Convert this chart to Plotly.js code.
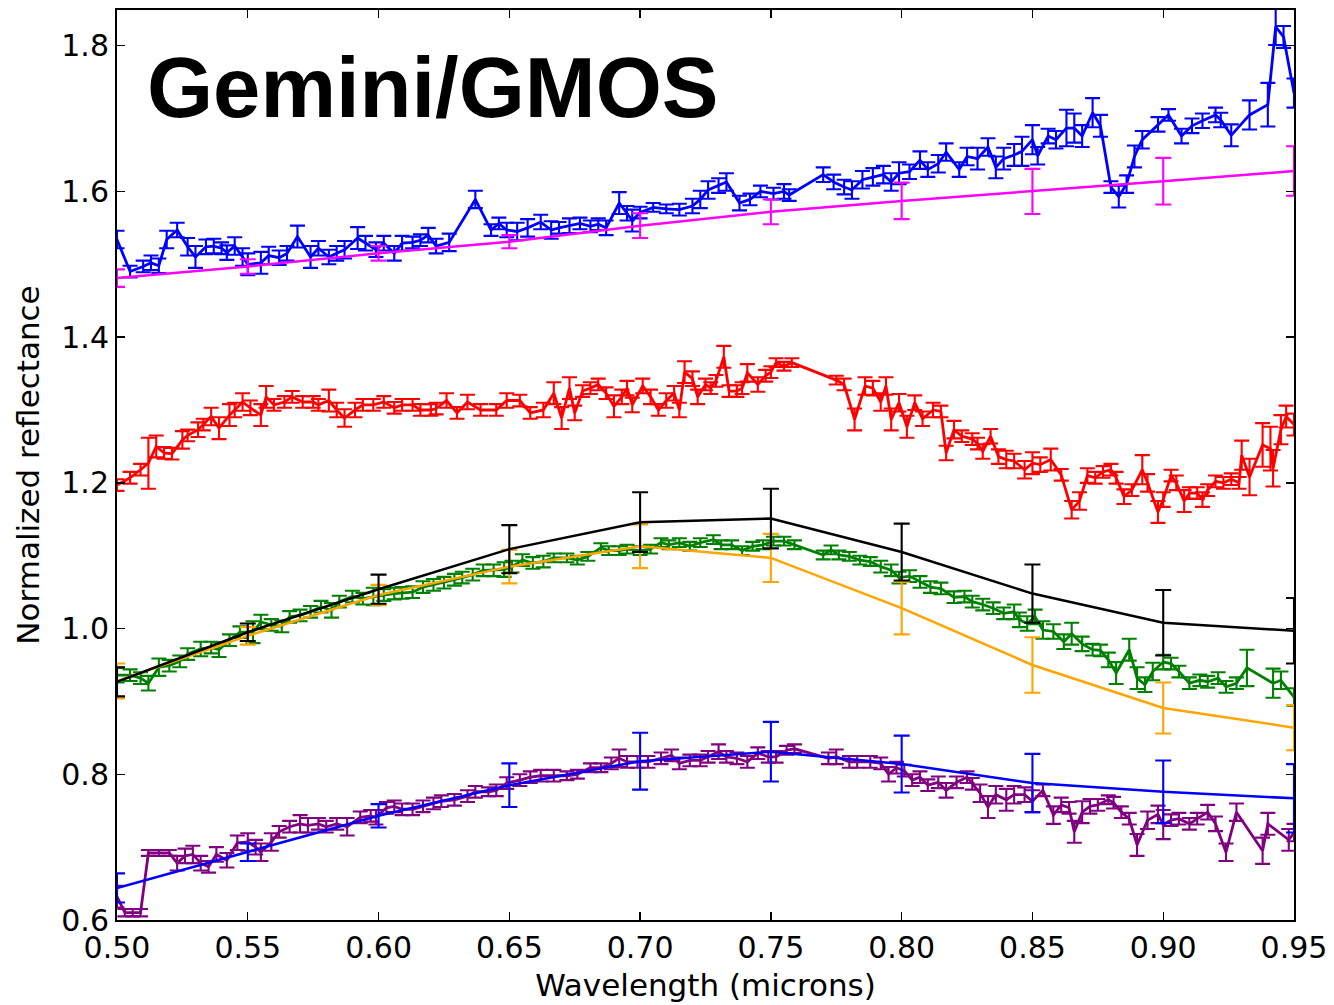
<!DOCTYPE html>
<html>
<head>
<meta charset="utf-8">
<script src="https://cdn.plot.ly/plotly-3.0.1.min.js"></script>
<style>html,body{margin:0;padding:0;background:#fff;}#chart{width:1334px;height:1005px;}</style>
</head>
<body>
<div id="chart"></div>
<script>
// ---- Data ----
var topSpecX = [0.500,0.505,0.510,0.513,0.516,0.519,0.523,0.527,0.530,0.534,0.537,0.540,0.542,0.545,0.548,0.550,0.555,0.558,0.562,0.565,0.569,0.574,0.577,0.581,0.584,0.587,0.592,0.595,0.599,0.602,0.606,0.609,0.613,0.616,0.619,0.622,0.627,0.637,0.643,0.646,0.649,0.653,0.657,0.662,0.666,0.669,0.673,0.677,0.681,0.684,0.687,0.692,0.695,0.697,0.700,0.705,0.710,0.715,0.720,0.723,0.726,0.730,0.733,0.738,0.742,0.746,0.751,0.755,0.757,0.770,0.774,0.778,0.781,0.785,0.789,0.793,0.796,0.799,0.803,0.807,0.810,0.814,0.817,0.822,0.825,0.829,0.833,0.836,0.839,0.843,0.846,0.850,0.852,0.856,0.859,0.863,0.866,0.869,0.873,0.876,0.880,0.883,0.886,0.889,0.892,0.898,0.902,0.907,0.911,0.915,0.920,0.922,0.926,0.933,0.940,0.943,0.946,0.950];
var topSpecY = [1.534,1.490,1.497,1.502,1.498,1.534,1.547,1.524,1.510,1.524,1.525,1.522,1.516,1.525,1.510,1.500,1.502,1.512,1.509,1.515,1.538,1.510,1.522,1.510,1.515,1.520,1.536,1.529,1.520,1.529,1.515,1.529,1.530,1.533,1.540,1.525,1.530,1.589,1.547,1.556,1.547,1.545,1.550,1.558,1.547,1.550,1.553,1.556,1.552,1.555,1.550,1.584,1.570,1.560,1.571,1.578,1.576,1.575,1.580,1.589,1.602,1.608,1.613,1.584,1.589,1.600,1.597,1.600,1.595,1.623,1.613,1.606,1.602,1.616,1.620,1.623,1.613,1.625,1.627,1.643,1.630,1.638,1.654,1.630,1.648,1.645,1.661,1.633,1.645,1.650,1.655,1.671,1.649,1.676,1.671,1.687,1.687,1.676,1.708,1.690,1.606,1.593,1.610,1.648,1.671,1.692,1.705,1.676,1.690,1.697,1.705,1.698,1.677,1.705,1.719,1.826,1.812,1.735];
var topSpecErr = [0.012,0.008,0.008,0.010,0.010,0.012,0.010,0.012,0.015,0.010,0.010,0.008,0.010,0.012,0.012,0.015,0.015,0.012,0.010,0.010,0.015,0.015,0.010,0.010,0.010,0.012,0.015,0.010,0.010,0.010,0.010,0.010,0.008,0.008,0.010,0.010,0.012,0.012,0.008,0.008,0.010,0.012,0.012,0.010,0.012,0.008,0.010,0.008,0.008,0.008,0.010,0.015,0.010,0.015,0.008,0.006,0.006,0.008,0.010,0.012,0.012,0.010,0.012,0.010,0.008,0.008,0.008,0.010,0.008,0.010,0.010,0.010,0.012,0.012,0.012,0.012,0.012,0.015,0.010,0.012,0.010,0.012,0.012,0.010,0.012,0.015,0.012,0.015,0.015,0.015,0.020,0.020,0.012,0.010,0.012,0.025,0.020,0.015,0.020,0.015,0.008,0.015,0.012,0.015,0.012,0.010,0.008,0.010,0.010,0.010,0.010,0.010,0.015,0.020,0.030,0.025,0.015,0.020];

var redSpecX = [0.500,0.505,0.509,0.512,0.515,0.518,0.521,0.525,0.527,0.531,0.533,0.536,0.539,0.543,0.545,0.548,0.551,0.555,0.557,0.560,0.564,0.567,0.571,0.575,0.577,0.581,0.584,0.587,0.591,0.594,0.598,0.602,0.606,0.609,0.613,0.616,0.620,0.622,0.626,0.630,0.634,0.639,0.645,0.649,0.654,0.658,0.663,0.667,0.670,0.673,0.675,0.678,0.681,0.684,0.687,0.690,0.693,0.695,0.697,0.701,0.704,0.707,0.710,0.713,0.715,0.717,0.720,0.722,0.725,0.727,0.729,0.732,0.734,0.737,0.739,0.741,0.745,0.748,0.750,0.752,0.755,0.758,0.775,0.778,0.782,0.786,0.789,0.792,0.794,0.796,0.799,0.802,0.805,0.808,0.812,0.815,0.817,0.820,0.823,0.827,0.829,0.831,0.834,0.837,0.840,0.843,0.847,0.850,0.853,0.857,0.861,0.865,0.868,0.871,0.874,0.877,0.880,0.882,0.885,0.888,0.892,0.894,0.898,0.900,0.903,0.905,0.908,0.910,0.913,0.915,0.917,0.920,0.923,0.926,0.929,0.930,0.933,0.938,0.941,0.942,0.945,0.947,0.950];
var redSpecY = [1.197,1.207,1.218,1.227,1.250,1.241,1.240,1.259,1.265,1.273,1.280,1.291,1.275,1.293,1.300,1.311,1.303,1.293,1.318,1.307,1.311,1.318,1.311,1.311,1.307,1.313,1.300,1.289,1.300,1.307,1.307,1.311,1.303,1.307,1.307,1.300,1.300,1.302,1.313,1.296,1.311,1.300,1.300,1.313,1.313,1.296,1.300,1.323,1.289,1.330,1.296,1.326,1.330,1.335,1.323,1.305,1.318,1.330,1.307,1.333,1.318,1.300,1.313,1.323,1.300,1.352,1.343,1.318,1.335,1.330,1.340,1.373,1.326,1.326,1.330,1.351,1.335,1.347,1.352,1.365,1.360,1.365,1.341,1.335,1.287,1.333,1.330,1.311,1.333,1.287,1.310,1.277,1.310,1.288,1.300,1.298,1.241,1.273,1.264,1.260,1.254,1.243,1.264,1.236,1.232,1.230,1.218,1.227,1.225,1.232,1.211,1.163,1.175,1.210,1.207,1.215,1.218,1.207,1.181,1.190,1.218,1.200,1.160,1.177,1.210,1.200,1.175,1.186,1.186,1.177,1.190,1.202,1.200,1.205,1.200,1.238,1.208,1.252,1.247,1.220,1.273,1.291,1.280];
var redSpecErr = [0.008,0.008,0.008,0.035,0.015,0.008,0.008,0.012,0.008,0.010,0.008,0.012,0.015,0.015,0.010,0.012,0.010,0.015,0.015,0.008,0.008,0.008,0.008,0.008,0.008,0.015,0.010,0.012,0.010,0.008,0.008,0.008,0.008,0.008,0.008,0.008,0.008,0.008,0.010,0.008,0.010,0.008,0.008,0.010,0.008,0.008,0.010,0.015,0.015,0.015,0.010,0.008,0.008,0.008,0.008,0.015,0.010,0.010,0.010,0.010,0.010,0.008,0.010,0.010,0.010,0.015,0.010,0.010,0.008,0.008,0.008,0.015,0.008,0.008,0.008,0.012,0.010,0.008,0.008,0.006,0.006,0.006,0.006,0.008,0.015,0.012,0.010,0.012,0.012,0.015,0.012,0.015,0.010,0.010,0.010,0.008,0.010,0.012,0.008,0.008,0.008,0.010,0.010,0.010,0.012,0.010,0.012,0.015,0.010,0.015,0.008,0.012,0.012,0.010,0.008,0.008,0.008,0.008,0.010,0.008,0.020,0.012,0.015,0.010,0.008,0.010,0.015,0.008,0.008,0.010,0.008,0.008,0.008,0.008,0.008,0.020,0.025,0.030,0.030,0.025,0.020,0.015,0.015];

var greenSpecX = [0.500,0.505,0.509,0.512,0.516,0.520,0.524,0.527,0.532,0.536,0.539,0.543,0.547,0.552,0.555,0.559,0.563,0.566,0.570,0.574,0.578,0.582,0.585,0.590,0.594,0.598,0.602,0.606,0.609,0.613,0.617,0.621,0.625,0.629,0.632,0.636,0.640,0.644,0.648,0.651,0.655,0.659,0.663,0.667,0.672,0.676,0.680,0.685,0.688,0.692,0.695,0.700,0.704,0.708,0.711,0.715,0.719,0.723,0.728,0.731,0.735,0.739,0.743,0.747,0.751,0.755,0.759,0.770,0.773,0.776,0.780,0.784,0.788,0.792,0.796,0.799,0.803,0.807,0.811,0.815,0.820,0.824,0.827,0.831,0.835,0.839,0.843,0.845,0.848,0.851,0.854,0.858,0.862,0.865,0.869,0.873,0.876,0.879,0.882,0.887,0.890,0.893,0.896,0.900,0.903,0.906,0.910,0.914,0.917,0.921,0.924,0.928,0.932,0.942,0.945,0.950];
var greenSpecY = [0.936,0.936,0.932,0.925,0.947,0.949,0.955,0.965,0.972,0.974,0.971,0.984,0.995,0.995,1.009,1.005,1.003,1.016,1.018,1.023,1.030,1.025,1.037,1.044,1.041,1.044,1.046,1.048,1.049,1.050,1.057,1.060,1.063,1.067,1.070,1.074,1.080,1.080,1.081,1.085,1.094,1.090,1.092,1.097,1.097,1.094,1.099,1.111,1.107,1.107,1.109,1.107,1.109,1.118,1.115,1.118,1.113,1.118,1.122,1.115,1.115,1.107,1.113,1.115,1.120,1.120,1.115,1.101,1.108,1.101,1.099,1.094,1.092,1.085,1.080,1.070,1.072,1.064,1.057,1.055,1.043,1.044,1.037,1.033,1.028,1.021,1.023,1.012,1.007,1.016,0.998,0.996,0.982,0.993,0.979,0.971,0.970,0.957,0.939,0.971,0.932,0.923,0.941,0.954,0.952,0.941,0.925,0.929,0.927,0.932,0.920,0.925,0.946,0.925,0.929,0.906];
var greenSpecErr = [0.010,0.008,0.008,0.010,0.012,0.008,0.008,0.008,0.010,0.008,0.010,0.008,0.008,0.015,0.010,0.008,0.008,0.008,0.008,0.008,0.008,0.010,0.008,0.008,0.008,0.012,0.008,0.008,0.008,0.008,0.008,0.008,0.008,0.008,0.008,0.008,0.008,0.008,0.010,0.008,0.008,0.008,0.008,0.006,0.006,0.006,0.006,0.006,0.006,0.006,0.006,0.006,0.006,0.006,0.006,0.006,0.006,0.006,0.006,0.006,0.006,0.006,0.006,0.006,0.006,0.006,0.006,0.006,0.006,0.006,0.006,0.006,0.006,0.008,0.008,0.008,0.008,0.008,0.008,0.008,0.008,0.008,0.008,0.008,0.008,0.008,0.010,0.010,0.010,0.010,0.012,0.010,0.010,0.015,0.010,0.008,0.008,0.010,0.015,0.015,0.015,0.010,0.012,0.010,0.008,0.008,0.008,0.008,0.008,0.008,0.008,0.008,0.025,0.020,0.012,0.012];

var purpleSpecX = [0.500,0.503,0.506,0.509,0.512,0.516,0.520,0.523,0.526,0.529,0.532,0.535,0.538,0.542,0.546,0.550,0.553,0.555,0.559,0.562,0.566,0.570,0.573,0.577,0.580,0.584,0.588,0.593,0.597,0.599,0.603,0.606,0.609,0.613,0.617,0.621,0.624,0.629,0.634,0.637,0.642,0.645,0.649,0.654,0.658,0.662,0.667,0.672,0.676,0.681,0.685,0.689,0.692,0.695,0.699,0.703,0.708,0.712,0.715,0.719,0.723,0.726,0.730,0.733,0.737,0.741,0.745,0.749,0.752,0.756,0.759,0.772,0.775,0.780,0.783,0.788,0.792,0.795,0.798,0.801,0.804,0.807,0.810,0.814,0.817,0.821,0.825,0.827,0.830,0.833,0.836,0.840,0.843,0.847,0.850,0.854,0.858,0.861,0.864,0.866,0.869,0.872,0.875,0.879,0.881,0.884,0.887,0.890,0.894,0.898,0.900,0.903,0.906,0.910,0.913,0.917,0.920,0.924,0.928,0.938,0.940,0.948,0.950];
var purpleSpecY = [0.632,0.610,0.610,0.610,0.692,0.692,0.692,0.678,0.688,0.690,0.678,0.673,0.690,0.682,0.706,0.707,0.700,0.693,0.707,0.721,0.728,0.732,0.730,0.732,0.728,0.732,0.728,0.741,0.743,0.741,0.754,0.756,0.752,0.752,0.756,0.760,0.763,0.765,0.770,0.776,0.776,0.778,0.788,0.792,0.796,0.798,0.798,0.798,0.800,0.809,0.809,0.815,0.822,0.817,0.817,0.817,0.822,0.826,0.815,0.819,0.819,0.824,0.831,0.824,0.822,0.817,0.829,0.824,0.824,0.833,0.835,0.822,0.824,0.817,0.817,0.817,0.815,0.800,0.809,0.805,0.792,0.796,0.785,0.789,0.778,0.789,0.796,0.787,0.774,0.755,0.772,0.765,0.772,0.772,0.763,0.778,0.744,0.758,0.754,0.721,0.748,0.756,0.758,0.765,0.761,0.748,0.739,0.703,0.737,0.745,0.731,0.737,0.739,0.732,0.739,0.748,0.732,0.693,0.748,0.695,0.732,0.710,0.720];
var purpleSpecErr = [0.015,0.005,0.005,0.005,0.004,0.004,0.004,0.010,0.010,0.012,0.010,0.008,0.010,0.010,0.010,0.012,0.010,0.012,0.012,0.008,0.008,0.012,0.010,0.008,0.008,0.008,0.012,0.008,0.008,0.010,0.008,0.008,0.008,0.008,0.008,0.008,0.008,0.008,0.008,0.008,0.006,0.008,0.008,0.008,0.008,0.008,0.008,0.006,0.006,0.006,0.006,0.008,0.012,0.008,0.008,0.008,0.008,0.008,0.008,0.008,0.008,0.008,0.010,0.008,0.008,0.008,0.008,0.008,0.008,0.006,0.006,0.008,0.010,0.008,0.008,0.008,0.008,0.010,0.008,0.008,0.008,0.008,0.008,0.008,0.010,0.008,0.008,0.008,0.012,0.015,0.012,0.015,0.012,0.010,0.015,0.008,0.012,0.010,0.008,0.015,0.015,0.010,0.008,0.006,0.008,0.008,0.008,0.015,0.012,0.012,0.020,0.008,0.008,0.008,0.008,0.010,0.010,0.012,0.012,0.018,0.015,0.015,0.012];

var modelX = [0.50,0.55,0.60,0.65,0.70,0.75,0.80,0.85,0.90,0.95];
var magentaY = [1.481,1.497,1.515,1.531,1.553,1.572,1.587,1.600,1.614,1.628];
var magentaErr = [0.012,0.010,0.010,0.009,0.017,0.017,0.025,0.031,0.032,0.034];
var blackY = [0.927,0.995,1.054,1.109,1.146,1.151,1.105,1.048,1.008,0.997];
var blackErr = [0.020,0.012,0.020,0.033,0.041,0.041,0.039,0.040,0.045,0.045];
var orangeY = [0.928,0.990,1.046,1.085,1.113,1.097,1.028,0.950,0.891,0.864];
var orangeErr = [0.024,0.012,0.014,0.023,0.030,0.033,0.036,0.038,0.035,0.031];
var blueModelY = [0.644,0.693,0.743,0.785,0.818,0.831,0.814,0.788,0.776,0.767];
var blueModelErr = [0.020,0.012,0.016,0.030,0.039,0.041,0.039,0.040,0.043,0.047];

var xTickVals = [0.50,0.55,0.60,0.65,0.70,0.75,0.80,0.85,0.90,0.95];
var yTickVals = [0.6,0.8,1.0,1.2,1.4,1.6,1.8];

// ---- Traces ----
function spec(x, y, err, color) {
  return {x: x, y: y, type: 'scatter', mode: 'lines',
    line: {color: color, width: 2.8},
    error_y: {type: 'data', array: err, visible: true, color: color, thickness: 2.1, width: 7.5},
    hoverinfo: 'skip'};
}
function model(x, y, err, color) {
  return {x: x, y: y, type: 'scatter', mode: 'lines',
    line: {color: color, width: 2.5},
    error_y: {type: 'data', array: err, visible: true, color: color, thickness: 2.1, width: 8},
    hoverinfo: 'skip'};
}

var data = [
  spec(topSpecX, topSpecY, topSpecErr, '#0000ff'),
  spec(redSpecX, redSpecY, redSpecErr, '#ff0000'),
  spec(greenSpecX, greenSpecY, greenSpecErr, '#008000'),
  spec(purpleSpecX, purpleSpecY, purpleSpecErr, '#800080'),
  model(modelX, magentaY, magentaErr, '#ff00ff'),
  model(modelX, orangeY, orangeErr, '#ffa500'),
  model(modelX, blackY, blackErr, '#000000'),
  model(modelX, blueModelY, blueModelErr, '#0000ff')
];

var fontFam = 'DejaVu Sans, sans-serif';
var layout = {
  width: 1334, height: 1005,
  margin: {l: 117, r: 40, t: 10, b: 85, pad: 0},
  paper_bgcolor: '#ffffff', plot_bgcolor: '#ffffff',
  showlegend: false,
  font: {family: fontFam, color: '#000000', size: 30},
  xaxis: {
    range: [0.5, 0.95], tickvals: xTickVals, tickformat: '.2f',
    showgrid: false, zeroline: false,
    showline: true, linecolor: '#000000', linewidth: 2, mirror: 'ticks',
    ticks: 'inside', ticklen: 8, tickwidth: 1.3, tickcolor: '#000000',
    tickfont: {family: fontFam, size: 30, color: '#000000'},
    title: {text: 'Wavelength (microns)', font: {family: fontFam, size: 31, color: '#000000'}, standoff: 10}
  },
  yaxis: {
    range: [0.6, 1.849], tickvals: yTickVals, tickformat: '.1f',
    showgrid: false, zeroline: false,
    showline: true, linecolor: '#000000', linewidth: 2, mirror: 'ticks',
    ticks: 'inside', ticklen: 8, tickwidth: 1.3, tickcolor: '#000000',
    tickfont: {family: fontFam, size: 30, color: '#000000'},
    title: {text: 'Normalized reflectance', font: {family: fontFam, size: 31, color: '#000000'}, standoff: 12}
  },
  annotations: [{
    text: 'Gemini/GMOS', xref: 'paper', yref: 'paper',
    x: 0.0238, y: 0.969, xanchor: 'left', yanchor: 'top', showarrow: false,
    font: {family: 'Liberation Sans, Arial, Helvetica, sans-serif', size: 85, color: '#000000', weight: 'bold'}
  }]
};

Plotly.newPlot('chart', data, layout, {staticPlot: true, displayModeBar: false});
</script>
</body>
</html>
